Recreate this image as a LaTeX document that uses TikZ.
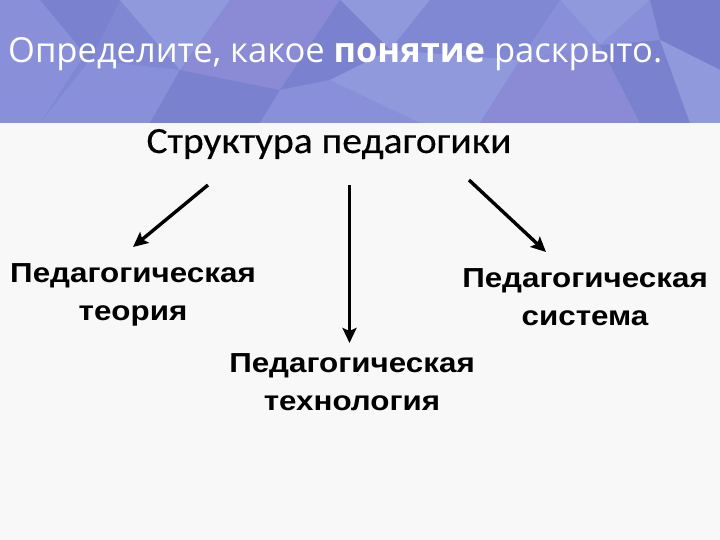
\documentclass[tikz,border=0pt]{standalone}
\usepackage{fontspec}
\setmainfont{Liberation Sans}
\newfontfamily\headfont{Open Sans}
\newfontfamily\titlefont[FakeStretch=1.07,FakeBold=0.3]{Carlito}
\newfontfamily\lblfont[FakeStretch=1.14]{Liberation Sans}
\usetikzlibrary{arrows.meta}
\definecolor{bgpage}{HTML}{F8F8F8}
\definecolor{lavA}{HTML}{8088D4}
\definecolor{lavB}{HTML}{8990D9}
\definecolor{lavC}{HTML}{7A82CF}
\definecolor{lavD}{HTML}{9199DD}
\definecolor{lavE}{HTML}{8A8AD5}
\definecolor{lavF}{HTML}{777FCC}
\tikzset{
  conn/.style={draw=black,line width=3.4pt,-{Stealth[length=15pt,width=14pt,inset=3pt]}},
  lbl/.style={font=\lblfont\bfseries\fontsize{27.5}{37.5}\selectfont,align=center,inner sep=0pt,anchor=base},
}
\begin{document}
\begin{tikzpicture}[x=1pt,y=-1pt]
\useasboundingbox (0,0) rectangle (720,540);
\fill[bgpage] (0,0) rectangle (720,540);
% header band low-poly
\fill[lavA] (0,0) rectangle (720,123);
\fill[lavB] (0,0) -- (120,0) -- (40,123) -- (0,123) -- cycle;
\fill[lavC] (40,0) -- (120,0) -- (90,60) -- cycle;
\fill[lavD] (120,0) -- (230,0) -- (180,70) -- cycle;
\fill[lavB] (90,60) -- (180,70) -- (150,123) -- (40,123) -- cycle;
\fill[lavC] (180,70) -- (280,90) -- (260,123) -- (150,123) -- cycle;
\fill[lavE] (230,0) -- (340,0) -- (280,90) -- (180,70) -- cycle;
\fill[lavD] (340,0) -- (430,0) -- (390,50) -- cycle;
\fill[lavC] (340,0) -- (390,50) -- (330,80) -- (280,90) -- cycle;
\fill[lavB] (280,90) -- (330,80) -- (420,123) -- (260,123) -- cycle;
\fill[lavD] (390,50) -- (520,60) -- (480,123) -- (420,123) -- (330,80) -- cycle;
\fill[lavA] (430,0) -- (560,0) -- (520,60) -- (390,50) -- cycle;
\fill[lavD] (560,0) -- (650,0) -- (600,45) -- cycle;
\fill[lavE] (520,60) -- (600,45) -- (640,123) -- (480,123) -- cycle;
\fill[lavB] (560,0) -- (600,45) -- (520,60) -- cycle;
\fill[lavF] (650,0) -- (720,0) -- (720,70) -- (660,40) -- cycle;
\fill[lavC] (600,45) -- (660,40) -- (690,123) -- (640,123) -- cycle;
\fill[lavD] (660,40) -- (720,70) -- (720,123) -- (690,123) -- cycle;
\fill[lavB] (600,45) -- (650,0) -- (660,40) -- cycle;
% header text
\node[font=\headfont\fontsize{34.5}{40}\selectfont,text=white,anchor=base west,inner sep=0pt] (head) at (8,63) {Определите, какое {\bfseries понятие} раскрыто.};
% title
\node[font=\titlefont\fontsize{37}{44}\selectfont,anchor=base,inner sep=0pt] (title) at (329,153) {Структура педагогики};
% labels (base = last line)
\node[lbl] (theory) at (133,320) {Педагогическая\\теория};
\node[lbl] (system) at (585,325) {Педагогическая\\система};
\node[lbl] (tech) at (352,410) {Педагогическая\\технология};
% arrow ends
\coordinate (s1) at (208,185);
\coordinate (e1) at (133,247);
\coordinate (s2) at (349.5,185);
\coordinate (e2) at (349.5,343);
\coordinate (s3) at (469,180);
\coordinate (e3) at (546,252);
\draw[conn] (s1) -- (e1);
\draw[conn] (s2) -- (e2);
\draw[conn] (s3) -- (e3);
\end{tikzpicture}
\end{document}
